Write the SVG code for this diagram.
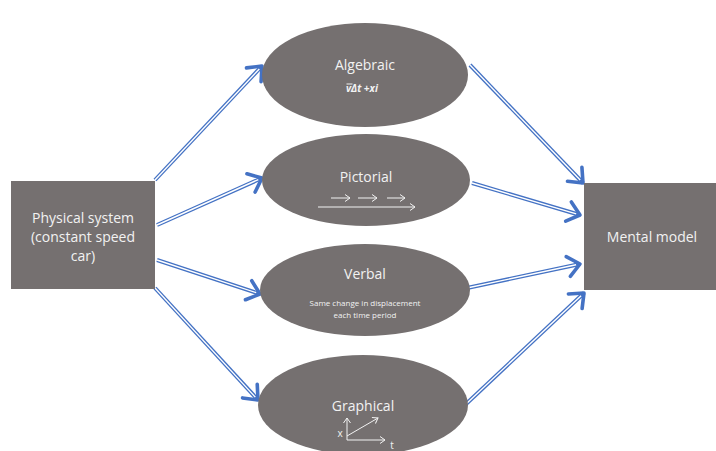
<svg xmlns="http://www.w3.org/2000/svg" width="716" height="451" viewBox="0 0 716 451">
<style>
.node{fill:#757070}
.t{font-family:"Open Sans","Liberation Sans",sans-serif;fill:#f2f2f2;text-anchor:middle}
.big{font-size:14px}
.small{font-size:8px}
.ob{stroke:#4472c4;stroke-width:4;fill:none}
.iw{stroke:#ffffff;stroke-width:1.4;fill:none}
.thin{stroke:#f2f2f2;stroke-width:1;fill:none}
</style>
<defs>
<marker id="head" markerUnits="userSpaceOnUse" markerWidth="30" markerHeight="30" viewBox="-20 -15 30 30" refX="0" refY="0" orient="auto">
<path d="M-12,-10 L0,0 L-12,10" fill="none" stroke="#4472c4" stroke-width="3.6" stroke-linecap="round" stroke-linejoin="round"/>
</marker>
<marker id="sh" markerUnits="userSpaceOnUse" markerWidth="12" markerHeight="12" viewBox="-8 -6 12 12" refX="0" refY="0" orient="auto">
<path d="M-5,-3.5 L0,0 L-5,3.5" fill="none" stroke="#f2f2f2" stroke-width="1"/>
</marker>
</defs>
<rect width="716" height="451" fill="#ffffff"/>
<g id="connectors">
<line class="ob" x1="155" y1="180" x2="262" y2="66" marker-end="url(#head)"/>
<line class="iw" x1="155" y1="180" x2="259.3" y2="68.9"/>
<line class="ob" x1="157" y1="225" x2="262" y2="178" marker-end="url(#head)"/>
<line class="iw" x1="157" y1="225" x2="258.3" y2="179.6"/>
<line class="ob" x1="157" y1="260" x2="260" y2="294" marker-end="url(#head)"/>
<line class="iw" x1="157" y1="260" x2="256.2" y2="292.7"/>
<line class="ob" x1="155" y1="288" x2="258" y2="400" marker-end="url(#head)"/>
<line class="iw" x1="155" y1="288" x2="255.3" y2="397.1"/>
<line class="ob" x1="470" y1="65" x2="583" y2="183" marker-end="url(#head)"/>
<line class="iw" x1="470" y1="65" x2="580.2" y2="180.1"/>
<line class="ob" x1="472" y1="183" x2="580" y2="215" marker-end="url(#head)"/>
<line class="iw" x1="472" y1="183" x2="576.2" y2="213.9"/>
<line class="ob" x1="467" y1="288" x2="580" y2="264" marker-end="url(#head)"/>
<line class="iw" x1="467" y1="288" x2="576.1" y2="264.8"/>
<line class="ob" x1="465" y1="405" x2="584" y2="293" marker-end="url(#head)"/>
<line class="iw" x1="465" y1="405" x2="581.1" y2="295.7"/>
</g>
<g id="physical">
<rect class="node" x="11" y="181" width="144" height="108"/>
<text class="t big" x="83" y="223">Physical system</text>
<text class="t big" x="83" y="242">(constant speed</text>
<text class="t big" x="83" y="261">car)</text>
</g>
<g id="mental">
<rect class="node" x="584" y="183" width="132" height="107"/>
<text class="t big" x="652" y="242" font-size="14.5">Mental model</text>
</g>
<g id="algebraic">
<ellipse class="node" cx="365" cy="75" rx="103" ry="52"/>
<text class="t big" x="365" y="70">Algebraic</text>
<text class="t" x="346" y="92" font-size="10" font-style="italic" font-weight="bold" style="text-anchor:start">vΔt +xi</text>
<line class="thin" x1="346.5" y1="84" x2="352.5" y2="84" stroke-width="0.8"/>
</g>
<g id="pictorial">
<ellipse class="node" cx="366" cy="180" rx="104" ry="46"/>
<text class="t big" x="366" y="182">Pictorial</text>
<line class="thin" x1="331" y1="198" x2="350" y2="198" marker-end="url(#sh)"/>
<line class="thin" x1="358" y1="198" x2="377" y2="198" marker-end="url(#sh)"/>
<line class="thin" x1="387" y1="198" x2="405" y2="198" marker-end="url(#sh)"/>
<line class="thin" x1="318" y1="207" x2="415" y2="207" marker-end="url(#sh)"/>
</g>
<g id="verbal">
<ellipse class="node" cx="365" cy="290" rx="105" ry="46"/>
<text class="t big" x="365" y="279">Verbal</text>
<text class="t small" x="365" y="306">Same change in displacement</text>
<text class="t small" x="365" y="318">each time period</text>
</g>
<g id="graphical">
<ellipse class="node" cx="363" cy="405" rx="105" ry="50"/>
<text class="t big" x="363" y="411">Graphical</text>
<line class="thin" x1="347" y1="440" x2="347" y2="418" marker-end="url(#sh)"/>
<line class="thin" x1="347" y1="440" x2="385" y2="440" marker-end="url(#sh)"/>
<line class="thin" x1="347" y1="436" x2="378" y2="418" marker-end="url(#sh)"/>
<text class="t" x="340" y="437" font-size="10">x</text>
<text class="t" x="392" y="449" font-size="10">t</text>
</g>
</svg>
